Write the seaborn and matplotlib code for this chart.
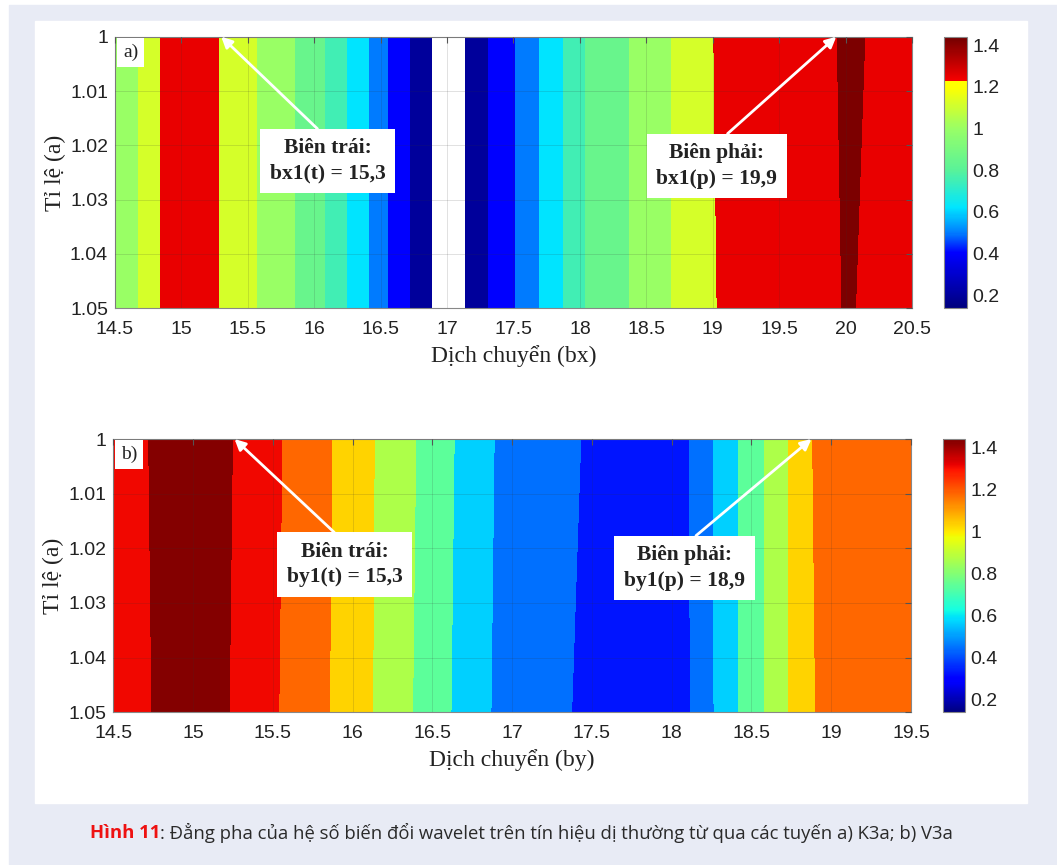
import numpy as np
import matplotlib
matplotlib.use("Agg")
import matplotlib.pyplot as plt
import seaborn as sns
from matplotlib.colors import LinearSegmentedColormap, Normalize
from matplotlib.patches import Rectangle

sns.set_theme(style="white")
plt.rcParams['font.family'] = ['Liberation Sans', 'DejaVu Sans']

# ---- data ----
# panel a) : band edges along bx at the top (a=1) and bottom (a=1.05) row
edges_a_top = [14.5, 14.675, 14.84, 15.28, 15.57, 15.855, 16.08, 16.245, 16.41, 16.56, 16.72,
               16.885, 17.135, 17.31, 17.51, 17.69, 17.87, 18.04, 18.365, 18.69, 19.005,
               19.935, 20.15, 20.5]
edges_a_bot = [14.5, 14.675, 14.84, 15.28, 15.57, 15.855, 16.08, 16.245, 16.41, 16.56, 16.72,
               16.885, 17.135, 17.31, 17.51, 17.69, 17.87, 18.04, 18.365, 18.69, 19.03,
               19.97, 20.08, 20.5]
values_a = [1.0, 1.12, 1.25, 1.12, 1.0, 0.85, 0.75, 0.62, 0.5, 0.4, 0.2, np.nan,
            0.2, 0.4, 0.5, 0.62, 0.75, 0.85, 1.0, 1.12, 1.25, 1.42, 1.25]

# panel b) : band edges along by
edges_b_top = [14.5, 14.72, 15.25, 15.56, 15.875, 16.14, 16.40, 16.64, 16.89, 17.435,
               18.109, 18.26, 18.42, 18.58, 18.73, 18.882, 19.5]
edges_b_bot = [14.5, 14.74, 15.23, 15.54, 15.86, 16.13, 16.38, 16.62, 16.87, 17.378,
               18.113, 18.265, 18.42, 18.58, 18.73, 18.90, 19.5]
values_b = [1.31, 1.43, 1.31, 1.18, 1.03, 0.87, 0.74, 0.57, 0.445, 0.33,
            0.445, 0.57, 0.74, 0.87, 1.03, 1.18]

scale_range = [1.0, 1.05]
y_ticks = [1, 1.01, 1.02, 1.03, 1.04, 1.05]
x_ticks_a = [14.5, 15, 15.5, 16, 16.5, 17, 17.5, 18, 18.5, 19, 19.5, 20, 20.5]
x_ticks_b = [14.5, 15, 15.5, 16, 16.5, 17, 17.5, 18, 18.5, 19, 19.5]
cbar_ticks = [0.2, 0.4, 0.6, 0.8, 1.0, 1.2, 1.4]
clim = [0.14, 1.44]

# colour scale of panel a (jet up to yellow, then red -> dark red)
stops_a = [0.14, 0.4, 0.5, 0.62, 0.8, 1.0, 1.2, 1.23, 1.2301, 1.44]
colors_a = [(0, 0, 0.5), (0, 0, 1), (0, 0.5, 1), (0, 0.9, 1), (0.35, 0.95, 0.6),
            (0.6, 1, 0.4), (1, 1, 0), (1, 1, 0), (0.97, 0, 0), (0.45, 0, 0)]
cmap_a = LinearSegmentedColormap.from_list(
    "jet_a", [((s - clim[0]) / (clim[1] - clim[0]), c) for s, c in zip(stops_a, colors_a)])
cmap_b = plt.get_cmap("jet")


def band_field(edges_top, edges_bot, values, nx=1600, ny=300):
    et = np.array(edges_top)
    eb = np.array(edges_bot)
    xs = np.linspace(et[0], et[-1], nx)
    field = np.empty((ny, nx))
    for i, f in enumerate(np.linspace(0, 1, ny)):
        e = et + (eb - et) * f
        idx = np.clip(np.searchsorted(e, xs, side='right') - 1, 0, len(values) - 1)
        field[i] = np.array(values)[idx]
    return field


fig = plt.figure(figsize=(10.57, 8.65), dpi=100, facecolor='white')
W, H = 1057, 865
fig.patches.append(Rectangle((9 / W, 0), 1, 1 - 5 / H, transform=fig.transFigure,
                             color='#e8ebf5', zorder=-2))
fig.patches.append(Rectangle((35 / W, 1 - 803 / H), (1027 - 35) / W, (803 - 21) / H,
                             transform=fig.transFigure, color='white', zorder=-1))


def fmt(v):
    return f"{v:g}"


serif = ['Liberation Serif', 'DejaVu Serif']


def panel(ax_rect, cb_rect, edges_top, edges_bot, values, xticks, cmap, tag, xlabel,
          notes):
    ax = fig.add_axes(ax_rect)
    field = band_field(edges_top, edges_bot, values)
    norm = Normalize(clim[0], clim[1])
    im = ax.imshow(field, cmap=cmap, norm=norm, aspect='auto', interpolation='nearest',
                   extent=[edges_top[0], edges_top[-1], scale_range[1], scale_range[0]])
    ax.set_xlim(edges_top[0], edges_top[-1])
    ax.set_ylim(scale_range[1], scale_range[0])
    ax.set_xticks(xticks)
    ax.set_xticklabels([fmt(v) for v in xticks])
    ax.set_yticks(y_ticks)
    ax.set_yticklabels([fmt(v) for v in y_ticks])
    ax.tick_params(direction='in', top=True, right=True, length=4, width=0.8,
                   color='#555555', labelsize=14, labelcolor='#222222')
    ax.tick_params(axis='x', pad=9)
    ax.tick_params(axis='y', pad=5)
    ax.grid(True, color='#333333', alpha=0.15, lw=0.7)
    ax.set_axisbelow(False)
    for s in ax.spines.values():
        s.set_color('#888888')
        s.set_linewidth(0.8)
    ax.set_xlabel(xlabel, family=serif, fontsize=17, color='#222222', labelpad=5)
    ax.set_ylabel('Tỉ lệ (a)', family=serif, fontsize=17, color='#222222', labelpad=3)
    ax.text(0.01, 0.975, tag, transform=ax.transAxes, ha='left', va='top',
            family=serif, fontsize=14, color='#222222',
            bbox=dict(boxstyle='square,pad=0.3', fc='white', ec='none'))
    for text, xy, xytext in notes:
        ax.annotate(text, xy=xy, xytext=xytext, ha='center', va='center',
                    family=serif, fontsize=15.5, fontweight='bold', color='#222222',
                    linespacing=1.35,
                    bbox=dict(boxstyle='square,pad=0.45', fc='white', ec='none'),
                    arrowprops=dict(arrowstyle='-|>', color='white', lw=2,
                                    mutation_scale=16, relpos=(0.5, 1.0),
                                    shrinkA=0, shrinkB=0))
    cax = fig.add_axes(cb_rect)
    cb = fig.colorbar(im, cax=cax, ticks=cbar_ticks)
    cb.ax.set_yticklabels([fmt(v) for v in cbar_ticks])
    cb.ax.tick_params(direction='in', length=3, labelsize=14, labelcolor='#222222',
                      color='#555555', pad=4)
    cb.outline.set_edgecolor('#888888')
    cb.outline.set_linewidth(0.8)
    return ax


notes_a = [('Biên trái:\nbx1(t) = 15,3', (15.3, 1.0), (16.1, 1.0229)),
           ('Biên phải:\nbx1(p) = 19,9', (19.93, 1.0), (19.03, 1.0238))]
notes_b = [('Biên trái:\nby1(t) = 15,3', (15.26, 1.0), (15.95, 1.023)),
           ('Biên phải:\nby1(p) = 18,9', (18.876, 1.0), (18.08, 1.0236))]

panel([115 / W, 1 - 308.3 / H, 797 / W, 271.6 / H],
      [944 / W, 1 - 307.5 / H, 22.7 / W, 270.8 / H],
      edges_a_top, edges_a_bot, values_a, x_ticks_a, cmap_a, 'a)', 'Dịch chuyển (bx)', notes_a)
panel([113.3 / W, 1 - 712.3 / H, 797.7 / W, 273.3 / H],
      [942.7 / W, 1 - 712.3 / H, 22.3 / W, 273 / H],
      edges_b_top, edges_b_bot, values_b, x_ticks_b, cmap_b, 'b)', 'Dịch chuyển (by)', notes_b)

# caption: red bold figure number followed by the description
cap_font = ['Open Sans', 'DejaVu Sans']
cap_rest = ': Đẳng pha của hệ số biến đổi wavelet trên tín hiệu dị thường từ qua các tuyến a) K3a; b) V3a'
t1 = fig.text(90 / W, 1 - 833 / H, 'Hình 11', color='#ee1111', fontweight='bold',
              family=cap_font, fontsize=13.3, ha='left', va='center')
plt.annotate(cap_rest, xy=(1, 0.5), xycoords=t1, ha='left', va='center', color='#2a2a2a',
             family=cap_font, fontsize=13.3, annotation_clip=False)

fig.savefig('out.png', dpi=100, facecolor=fig.get_facecolor())
